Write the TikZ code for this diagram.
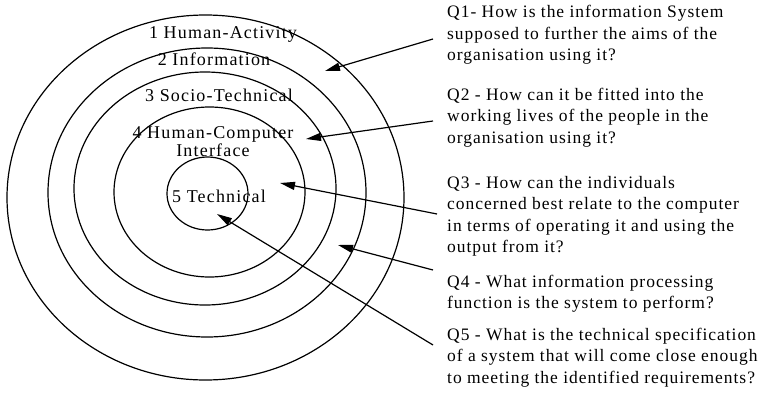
\documentclass[tikz,border=0pt]{standalone}
\usepackage{fontspec}
\setmainfont{Liberation Serif}[LetterSpace=5.5]
\usetikzlibrary{arrows.meta,shapes.geometric}
\newcommand{\qfont}{\fontsize{17.5}{21.5}\selectfont}
\begin{document}
\begin{tikzpicture}[x=1pt,y=-1pt,
  ring/.style={draw, ellipse, line width=1.2pt, inner sep=0pt},
  lbl/.style={inner sep=0pt, anchor=base, font=\fontsize{18}{18}\selectfont\addfontfeature{LetterSpace=6.5}},
  qtxt/.style={inner sep=0pt, anchor=base west, font=\qfont},
  pointer/.style={line width=1.2pt, -{Triangle[length=15pt,width=8pt]}}]
\useasboundingbox (0,0) rectangle (762,404);
% rings
\node[ring, minimum width=397pt, minimum height=365pt] (e1) at (205.5,197.5) {};
\node[ring, minimum width=318pt, minimum height=289pt] (e2) at (207,192.5) {};
\node[ring, minimum width=262pt, minimum height=233pt] (e3) at (205,188.5) {};
\node[ring, minimum width=191pt, minimum height=170pt] (e4) at (209.5,192) {};
\node[ring, minimum width=81pt, minimum height=73pt] (e5) at (207.5,193.5) {};
% ring labels
\node[lbl] (l1) at (223,38) {1 Human-Activity};
\node[lbl] (l2) at (214,65) {2 Information};
\node[lbl] (l3) at (219,101) {3 Socio-Technical};
\node[lbl] (l4) at (213,138) {4 Human-Computer};
\node[lbl] (l4b) at (213,156) {Interface};
\node[lbl] (l5) at (219,202) {5 Technical};
% questions
\node[qtxt] (q1) at (447,18) {\begin{tabular}[t]{@{}l@{}}Q1- How is the information System\\ supposed to further the aims of the\\ organisation using it?\end{tabular}};
\node[qtxt] (q2) at (447,100) {\begin{tabular}[t]{@{}l@{}}Q2 - How can it be fitted into the\\ working lives of the people in the\\ organisation using it?\end{tabular}};
\node[qtxt] (q3) at (447,188) {\begin{tabular}[t]{@{}l@{}}Q3 - How can the individuals\\ concerned best relate to the computer\\ in terms of operating it and using the\\ output from it?\end{tabular}};
\node[qtxt] (q4) at (447,287) {\begin{tabular}[t]{@{}l@{}}Q4 - What information processing\\ function is the system to perform?\end{tabular}};
\node[qtxt] (q5) at (447,340) {\begin{tabular}[t]{@{}l@{}}Q5 - What is the technical specification\\ of a system that will come close enough\\ to meeting the identified requirements?\end{tabular}};
% arrow ends
\coordinate (q1s) at (433,39);  \coordinate (q1t) at (325,71);
\coordinate (q2s) at (433,121); \coordinate (q2t) at (306,139);
\coordinate (q3s) at (437,214); \coordinate (q3t) at (280,183);
\coordinate (q4s) at (433,270); \coordinate (q4t) at (338,245);
\coordinate (q5s) at (433,345); \coordinate (q5t) at (217,214);
\draw[pointer] (q1s) -- (q1t);
\draw[pointer] (q2s) -- (q2t);
\draw[pointer] (q3s) -- (q3t);
\draw[pointer] (q4s) -- (q4t);
\draw[pointer] (q5s) -- (q5t);
\end{tikzpicture}
\end{document}
